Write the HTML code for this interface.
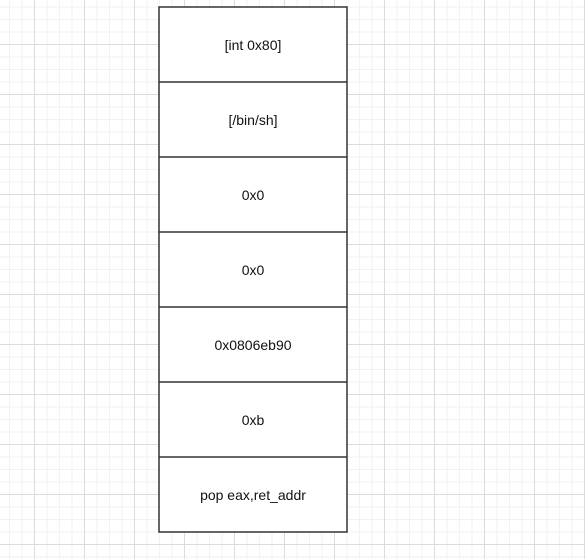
<!DOCTYPE html>
<html><head><meta charset="utf-8"><style>
html,body{margin:0;padding:0;background:#fff;width:585px;height:559px;overflow:hidden}
</style></head><body>
<svg width="585" height="559" xmlns="http://www.w3.org/2000/svg" style="display:block">
<defs>
<pattern id="minor" x="-3.5" y="6.5" width="12.5" height="12.5" patternUnits="userSpaceOnUse">
<path d="M0 0.5H12.5M0.5 0V12.5" stroke="#f2f2f2" stroke-width="1" fill="none"/>
</pattern>
<pattern id="major" x="34" y="44" width="50" height="50" patternUnits="userSpaceOnUse">
<path d="M0 0.5H50M0.5 0V50" stroke="#dcdcdc" stroke-width="1" fill="none"/>
</pattern>
</defs>
<rect width="585" height="559" fill="url(#minor)"/>
<rect width="585" height="559" fill="url(#major)"/>
<g stroke="#333" stroke-width="1.5">
<rect x="159" y="7" width="188" height="525" fill="#fff"/>
<line x1="159" y1="82" x2="347" y2="82"/>
<line x1="159" y1="157" x2="347" y2="157"/>
<line x1="159" y1="232" x2="347" y2="232"/>
<line x1="159" y1="307" x2="347" y2="307"/>
<line x1="159" y1="382" x2="347" y2="382"/>
<line x1="159" y1="457" x2="347" y2="457"/>
</g>
<g font-family="Liberation Sans, sans-serif" font-size="14" fill="#111" text-anchor="middle">
<text x="253" y="50">[int 0x80]</text>
<text x="253" y="125">[/bin/sh]</text>
<text x="253" y="200">0x0</text>
<text x="253" y="275">0x0</text>
<text x="253" y="350">0x0806eb90</text>
<text x="253" y="425">0xb</text>
<text x="253" y="500">pop eax,ret_addr</text>
</g>
</svg>
</body></html>
